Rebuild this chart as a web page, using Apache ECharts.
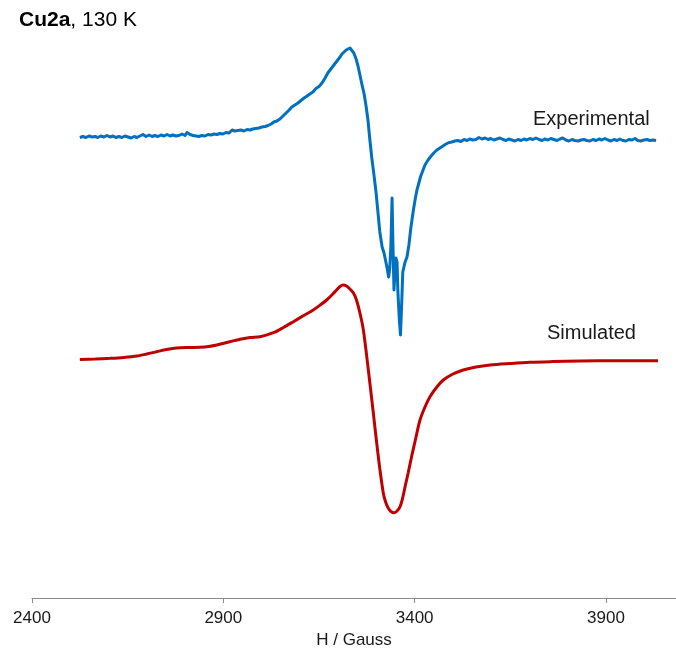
<!DOCTYPE html>
<html>
<head>
<meta charset="utf-8">
<script src="https://cdn.jsdelivr.net/npm/echarts@6/dist/echarts.min.js"></script>
<style>
html,body{margin:0;padding:0;background:#fff;}
#chart{width:676px;height:655px;}
</style>
</head>
<body>
<div id="chart"></div>
<script>
// Magnetic field (Gauss) and EPR intensity (arbitrary units, offset traces)
const expField = [2525,2533,2541,2549,2557,2565,2572,2580,2588,2596,2604,2612,2619,2627,2635,2643,2651,2659,2667,2674,2682,2690,2698,2706,2714,2721,2729,2737,2745,2753,2761,2768,2776,2784,2792,2800,2805,2813,2821,2829,2836,2844,2852,2860,2868,2876,2883,2891,2899,2907,2915,2923,2930,2938,2946,2954,2962,2970,2977,2985,2993,3001,3009,3017,3025,3032,3040,3048,3056,3064,3072,3079,3087,3095,3103,3111,3119,3126,3134,3142,3150,3158,3166,3173,3181,3189,3197,3205,3210,3215,3221,3226,3231,3236,3241,3247,3252,3257,3262,3268,3273,3278,3283,3288,3294,3299,3304,3309,3315,3320,3324,3328,3332,3335,3338,3341,3343,3346,3349,3351,3354,3356,3360,3363,3366,3369,3375,3380,3385,3390,3396,3401,3406,3411,3416,3422,3427,3435,3443,3450,3458,3466,3474,3482,3490,3497,3505,3513,3521,3529,3537,3544,3552,3560,3568,3576,3584,3592,3599,3607,3615,3623,3631,3639,3646,3654,3662,3670,3678,3686,3693,3701,3709,3717,3725,3733,3740,3748,3756,3764,3772,3780,3787,3795,3803,3811,3819,3827,3835,3842,3850,3858,3866,3874,3882,3889,3897,3905,3913,3921,3929,3936,3944,3952,3960,3968,3976,3983,3991,3999,4007,4015,4023,4031];
const expSignal = [460.5,461.5,460.5,462,461,461.5,460.5,462,461,462.5,461,462,460.5,461.5,460.5,462,461,460,461.5,460.5,462,463.5,461.5,463,461.5,462.5,461.5,463,462,463.5,462,463,462,462.5,464,462.5,465.5,463.5,462.5,462,461.5,462.5,462,463.5,463,464,463.5,464.5,464,465.5,465,468,467,467.5,468,467,468.5,468,469,469.5,470,471,471.5,472.5,474,476,477,479,482,485,488,491,493,495,497.5,500,502,504,506,509.5,511.5,515,520,525,529,533,537,541,544,546,548,549.5,550,548.5,545,539,532,523,514,504,492,478,458,440,422,406,386,366,351,345,347,330,321,330,353,400,358,308,328,340,336,308,278,263,293,326,336,341,353,370,386,398,408,415,422,428,433,438,442,445,448,450,452,454,455.5,456,457,457.5,456.5,458.5,457.5,459,458,458.5,460.5,459,460,458.5,459.5,458,459,460,458.5,457.5,459,458,457,458.5,457.5,459,458,459.5,458.5,460,458.5,457.5,459,458,459.5,458.5,457.5,459,460,458,457,458.5,457.5,457,458,458.5,457.5,457,458.5,457.5,459,458,459.5,458,457,458.5,457.5,459,457.5,457,458.5,458,459.5,457.5,457,458,458.5,457.5,458,457.5];

const simField = [2525,2565,2604,2640,2674,2700,2726,2752,2778,2810,2839,2862,2883,2914,2944,2970,2996,3031,3057,3083,3110,3135,3155,3170,3185,3196,3205,3213,3222,3231,3240,3248,3257,3266,3279,3292,3305,3318,3325,3331,3338,3347,3354,3362,3368,3375,3383,3392,3403,3414,3427,3440,3457,3475,3500,3527,3560,3597,3650,3701,3760,3832,3930,4036];
const simSignal = [238.5,239,239.7,240.6,242,244,246.3,248.5,250,250.5,250.7,251.5,253,256,258.7,260.5,261.3,265.3,270.5,276.3,282.5,288,293.5,298,303.5,308,311.5,313,312,309,305,298,285,268,228,185,141.3,105,95,90,86.5,85.3,87,91.3,99,111.3,125,141.3,160,178,191,201.3,210.5,218,224,228,231,233,234.5,235.7,236.4,237,237.2,237.3];

const xTicks = [2400, 2900, 3400, 3900];
const xTitle = 'H / Gauss';
const labels = ['Experimental', 'Simulated'];

const chart = echarts.init(document.getElementById('chart'), null, {renderer: 'canvas'});
const font = '"Liberation Sans", Arial, sans-serif';
chart.setOption({
  animation: false,
  backgroundColor: '#ffffff',
  title: {
    left: 19, top: 10, padding: 0,
    text: '{b|Cu2a}{n|, 130 K}',
    textStyle: {
      rich: {
        b: {fontFamily: font, fontWeight: 'bold', fontSize: 21, color: '#000'},
        n: {fontFamily: font, fontWeight: 'normal', fontSize: 21, color: '#000'}
      }
    }
  },
  grid: {left: 32, right: 0, top: 0, bottom: 57, containLabel: false, outerBoundsMode: 'none'},
  xAxis: {
    type: 'value', min: 2400, max: 4083, interval: 500,
    name: xTitle, nameLocation: 'middle', nameGap: 29,
    nameTextStyle: {fontFamily: font, fontSize: 17, color: '#1a1a1a'},
    axisLine: {show: true, lineStyle: {color: '#8c8c8c', width: 1}},
    axisTick: {show: true, length: 5, inside: false, lineStyle: {color: '#8c8c8c'}},
    axisLabel: {
      margin: 12, fontFamily: font, fontSize: 17, color: '#1a1a1a',
      showMaxLabel: false,
      formatter: v => xTicks.includes(v) ? String(v) : ''
    },
    splitLine: {show: false}
  },
  yAxis: {type: 'value', min: 0, max: 598, show: false},
  series: [
    {
      name: labels[0], type: 'line', showSymbol: false, symbol: 'none',
      data: expField.map((x, i) => [x, expSignal[i]]),
      lineStyle: {color: '#0070C0', width: 3, join: 'round'},
      itemStyle: {color: '#0070C0'}
    },
    {
      name: labels[1], type: 'line', showSymbol: false, symbol: 'none', smooth: 0.3,
      data: simField.map((x, i) => [x, simSignal[i]]),
      lineStyle: {color: '#C00000', width: 3},
      itemStyle: {color: '#C00000'}
    }
  ],
  graphic: [
    {type: 'text', left: 533, top: 109, style: {text: labels[0], fontFamily: font, fontSize: 20, fill: '#1a1a1a'}},
    {type: 'text', left: 547, top: 323, style: {text: labels[1], fontFamily: font, fontSize: 20, fill: '#1a1a1a'}}
  ]
});
</script>
</body>
</html>
